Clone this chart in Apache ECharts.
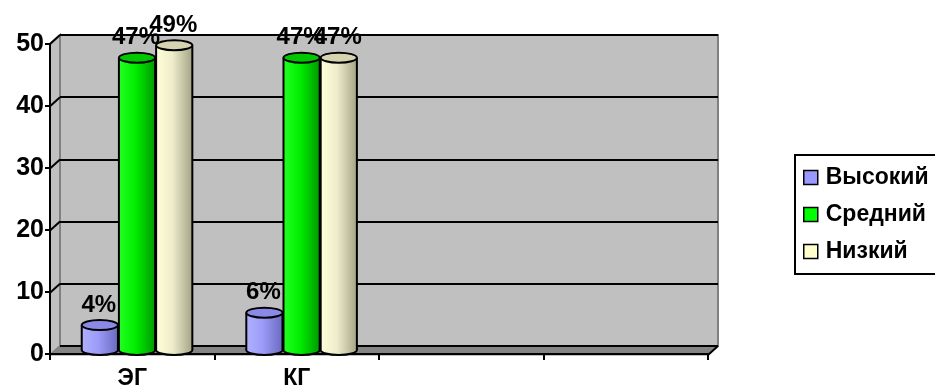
<!DOCTYPE html>
<html>
<head>
<meta charset="utf-8">
<script src="https://cdn.jsdelivr.net/npm/echarts@6/dist/echarts.min.js"></script>
<style>
html, body { margin: 0; padding: 0; background: #fff; }
#chart { width: 935px; height: 390px; }
</style>
</head>
<body>
<div id="chart"></div>
<script>
// data
var categories = ['ЭГ', 'КГ', '', ''];
var levelNames = ['Высокий', 'Средний', 'Низкий'];
var highVals = [4, 6];
var midVals = [47, 47];
var lowVals = [49, 47];
var yMax = 50, yStep = 10;

// cylinder colours: left, middle, right, top, legend
var palette = [
    ['#b0b0ff', '#9c9cf8', '#6a6ac0', '#8a8ae6', '#9999ff'],
    ['#22ff22', '#00ee00', '#009a00', '#00c800', '#00ff00'],
    ['#ffffd8', '#eeeccb', '#a4a486', '#d6d4b0', '#ffffcc']
];

// layout of the fake 3d box
var fL = 50, fR = 708, fT = 44, fB = 355;   // front plane
var dx = 10, dy = 9;                         // depth offset of back wall

var myChart = echarts.init(document.getElementById('chart'));

function cylinder(si) {
    var c = palette[si];
    return function (params, api) {
        var cat = api.value(0), v = api.value(1);
        var base = api.coord([cat, 0]);
        var top = api.coord([cat, v]);
        var band = api.size([1, 0])[0];
        var w = band * 0.22, ry = 5;
        var cx = base[0] + (si - 1) * band * 0.226;
        var x0 = cx - w / 2;
        var grad = new echarts.graphic.LinearGradient(0, 0, 1, 0, [
            { offset: 0, color: c[0] },
            { offset: 0.45, color: c[1] },
            { offset: 1, color: c[2] }
        ]);
        return {
            type: 'group',
            children: [
                { type: 'ellipse', shape: { cx: cx, cy: base[1], rx: w / 2, ry: ry },
                  style: { fill: grad, stroke: '#000', lineWidth: 2 } },
                { type: 'rect', shape: { x: x0, y: top[1], width: w, height: base[1] - top[1] },
                  style: { fill: grad } },
                { type: 'line', shape: { x1: x0, y1: top[1], x2: x0, y2: base[1] },
                  style: { stroke: '#000', lineWidth: 2 } },
                { type: 'line', shape: { x1: x0 + w, y1: top[1], x2: x0 + w, y2: base[1] },
                  style: { stroke: '#000', lineWidth: 2 } },
                { type: 'ellipse', shape: { cx: cx, cy: top[1], rx: w / 2, ry: ry },
                  style: { fill: c[3], stroke: '#000', lineWidth: 2 } },
                { type: 'text', z2: 10,
                  style: { text: v + '%', x: cx - 1, y: top[1] - ry - 3,
                           align: 'center', verticalAlign: 'bottom',
                           font: 'bold 24px Arial', fill: '#000' } }
            ]
        };
    };
}

function toData(arr) {
    return arr.map(function (v, i) { return [i, v]; });
}

// walls, floor and diagonal gridlines on the left wall
var deco = [
    { type: 'polygon', z: 1, shape: { points: [[fL, fB], [fL, fT], [fL + dx, fT - dy], [fL + dx, fB - dy]] },
      style: { fill: '#c0c0c0', stroke: '#808080', lineWidth: 2 } },
    { type: 'polygon', z: 1, shape: { points: [[fL, fB], [fR, fB], [fR + dx, fB - dy], [fL + dx, fB - dy]] },
      style: { fill: '#858585', stroke: '#808080', lineWidth: 1 } },
    { type: 'line', z: 5, shape: { x1: fR, y1: fB, x2: fR + dx, y2: fB - dy },
      style: { stroke: '#000', lineWidth: 2 } }
];
for (var t = yStep; t <= yMax; t += yStep) {
    var yf = fB - (fB - fT) * t / yMax;
    deco.push({ type: 'line', z: 2, shape: { x1: fL, y1: yf, x2: fL + dx, y2: yf - dy },
                style: { stroke: '#000', lineWidth: 2 } });
}

var option = {
    animation: false,
    grid: [
        // back wall
        { left: fL + dx, right: 935 - fR - dx, top: fT - dy, bottom: 390 - fB + dy,
          show: true, backgroundColor: '#c0c0c0', borderColor: '#808080', borderWidth: 2 },
        // front axes
        { left: fL, right: 935 - fR, top: fT, bottom: 390 - fB },
        // cylinders
        { left: 54.75, right: 222, top: 39, bottom: 40 }
    ],
    xAxis: [
        { gridIndex: 0, type: 'category', data: categories, show: false },
        { gridIndex: 1, type: 'category', data: categories, z: 5,
          axisLine: { show: true, lineStyle: { color: '#000', width: 2 } },
          axisTick: { show: true, length: 6, interval: 0, lineStyle: { color: '#000', width: 2 } },
          axisLabel: { color: '#000', fontFamily: 'Arial', fontWeight: 'bold', fontSize: 23, margin: 13, interval: 0 } },
        { gridIndex: 2, type: 'category', data: categories, show: false }
    ],
    yAxis: [
        { gridIndex: 0, type: 'value', min: 0, max: yMax, interval: yStep, z: 1,
          axisLine: { show: false }, axisTick: { show: false }, axisLabel: { show: false },
          splitLine: { show: true, lineStyle: { color: '#000', width: 2 } } },
        { gridIndex: 1, type: 'value', min: 0, max: yMax, interval: yStep, z: 5,
          axisLine: { show: true, lineStyle: { color: '#000', width: 2 } },
          axisTick: { show: true, length: 5, lineStyle: { color: '#000', width: 2 } },
          axisLabel: { color: '#000', fontFamily: 'Arial', fontWeight: 'bold', fontSize: 25, margin: 6 },
          splitLine: { show: false } },
        { gridIndex: 2, type: 'value', min: 0, max: yMax, show: false, splitLine: { show: false } }
    ],
    legend: {
        left: 795, top: 155, orient: 'vertical', selectedMode: false,
        backgroundColor: '#fff', borderColor: '#000', borderWidth: 2,
        padding: [11, 40, 11, 8], itemGap: 14, itemWidth: 14, itemHeight: 14,
        icon: 'rect',
        itemStyle: { borderColor: '#000', borderWidth: 1.5 },
        textStyle: { color: '#000', fontFamily: 'Arial', fontWeight: 'bold', fontSize: 23, lineHeight: 23, padding: [0, 0, 0, 3] },
        data: levelNames
    },
    graphic: deco,
    series: [highVals, midVals, lowVals].map(function (vals, si) {
        return {
            name: levelNames[si], type: 'custom', xAxisIndex: 2, yAxisIndex: 2, z: 6,
            itemStyle: { color: palette[si][4] },
            renderItem: cylinder(si),
            encode: { x: 0, y: 1 },
            data: toData(vals)
        };
    })
};

myChart.setOption(option);
</script>
</body>
</html>
